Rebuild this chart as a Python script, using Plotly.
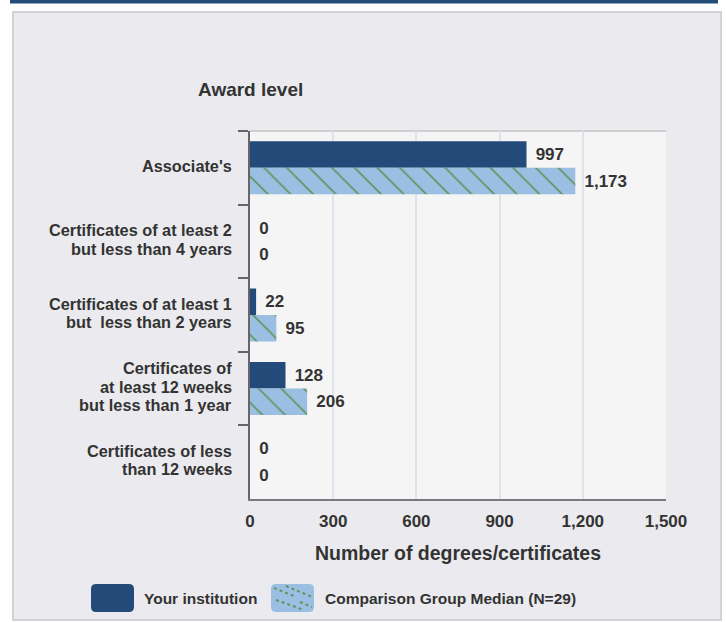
import plotly.graph_objects as go

categories = [
    "Associate's",
    "Certificates of at least 2<br>but less than 4 years",
    "Certificates of at least 1<br>but  less than 2 years",
    "Certificates of<br>at least 12 weeks<br>but less than 1 year",
    "Certificates of less<br>than 12 weeks",
]
your_institution = [997, 0, 22, 128, 0]
comparison_median = [1173, 0, 95, 206, 0]
x_ticks = [0, 300, 600, 900, 1200, 1500]
series_names = ["Your institution", "Comparison Group Median (N=29)"]

W, H = 726, 622
L, R, T, B = 250, 666, 131, 499

def px(x):
    return (x - L) / (R - L)

def py(y):
    return (B - y) / (B - T)

DARK = "#234a78"
LIGHT = "#9bbfe2"
GREEN = "#5e955e"
TXT = "#333333"
FONT = "Liberation Sans, Arial, sans-serif"
PAD = "\u00a0\u200a"

fig = go.Figure()
fig.add_trace(go.Bar(
    y=categories, x=your_institution, orientation="h", name=series_names[0],
    marker=dict(color=DARK, line=dict(width=0)),
    texttemplate=PAD + "%{x:,}", textposition="outside",
    textfont=dict(family=FONT, size=17, color=TXT, weight="bold"),
    cliponaxis=False, showlegend=False,
))
fig.add_trace(go.Bar(
    y=categories, x=comparison_median, orientation="h", name=series_names[1],
    marker=dict(color=LIGHT, line=dict(width=0),
                pattern=dict(shape="\\", fgcolor=GREEN, bgcolor=LIGHT,
                             size=16, solidity=0.1, fillmode="replace")),
    texttemplate=PAD + "%{x:,}", textposition="outside",
    textfont=dict(family=FONT, size=17, color=TXT, weight="bold"),
    cliponaxis=False, showlegend=False,
))

shapes = []
# panel
shapes.append(dict(type="rect", xref="paper", yref="paper", layer="below",
                   x0=px(13), x1=px(721), y0=py(620), y1=py(12),
                   fillcolor="#ebebef", line=dict(color="#d2d2d4", width=2)))
# top band
shapes.append(dict(type="rect", xref="paper", yref="paper", layer="below",
                   x0=px(10), x1=px(718), y0=py(3.5), y1=py(0),
                   fillcolor="#244c79", line=dict(width=0)))
# plot background
shapes.append(dict(type="rect", xref="paper", yref="paper", layer="below",
                   x0=0, x1=1, y0=0, y1=1,
                   fillcolor="#f5f5f5", line=dict(width=0)))
shapes.append(dict(type="line", xref="paper", yref="paper", layer="below",
                   x0=0, x1=1, y0=1, y1=1, line=dict(color="#cfcfd2", width=2)))

def rounded(x0, y0, x1, y1, r):
    X0, X1 = px(x0), px(x1)
    Y0, Y1 = py(y0), py(y1)
    rx = r / (R - L)
    ry = r / (B - T)
    return (f"M {X0+rx},{Y0} L {X1-rx},{Y0} Q {X1},{Y0} {X1},{Y0-ry} "
            f"L {X1},{Y1+ry} Q {X1},{Y1} {X1-rx},{Y1} L {X0+rx},{Y1} "
            f"Q {X0},{Y1} {X0},{Y1+ry} L {X0},{Y0-ry} Q {X0},{Y0} {X0+rx},{Y0} Z")

shapes.append(dict(type="path", xref="paper", yref="paper",
                   path=rounded(91, 584, 134, 612, 5),
                   fillcolor=DARK, line=dict(width=0)))
shapes.append(dict(type="path", xref="paper", yref="paper",
                   path=rounded(271, 584, 314, 612, 5),
                   fillcolor=LIGHT, line=dict(width=0)))
for (a, b, c, d) in [(274, 588, 294, 596), (286, 586, 312, 597), (276, 600, 304, 610), (300, 602, 312, 607)]:
    shapes.append(dict(type="line", xref="paper", yref="paper",
                       x0=px(a), y0=py(b), x1=px(c), y1=py(d),
                       line=dict(color=GREEN, width=2, dash="dot")))

annotations = [
    dict(text="<b>Award level</b>", xref="paper", yref="paper",
         x=px(250), y=py(90), xanchor="center", yanchor="middle", showarrow=False,
         font=dict(family=FONT, size=19, color=TXT)),
    dict(text="<b>" + series_names[0] + "</b>", xref="paper", yref="paper",
         x=px(142), y=py(598), xanchor="left", yanchor="middle", showarrow=False,
         font=dict(family=FONT, size=15.5, color=TXT)),
    dict(text="<b>" + series_names[1] + "</b>", xref="paper", yref="paper",
         x=px(323), y=py(598), xanchor="left", yanchor="middle", showarrow=False,
         font=dict(family=FONT, size=15.5, color=TXT)),
]

# category labels, one annotation per line for tight line spacing
LINE = 18.5
for cat in categories:
    lines = cat.split("<br>")
    n = len(lines)
    for i, ln in enumerate(lines):
        annotations.append(dict(
            text="<b>" + ln + "</b>", xref="paper", yref="y",
            x=px(234), y=cat, xanchor="right", yanchor="middle", showarrow=False,
            yshift=((n - 1) / 2 - i) * LINE + 2,
            font=dict(family=FONT, size=16.3, color=TXT)))

fig.update_layout(
    width=W, height=H,
    margin=dict(l=L, r=W - R, t=T, b=H - B, pad=0),
    paper_bgcolor="white", plot_bgcolor="rgba(0,0,0,0)",
    barmode="group", bargap=0.28, bargroupgap=0,
    shapes=shapes, annotations=annotations,
    font=dict(family=FONT, color=TXT),
    xaxis=dict(range=[0, 1500], tickvals=x_ticks, tickformat=",",
               showgrid=True, gridcolor="#dce3ed", gridwidth=2,
               zeroline=False, showline=True, linecolor="#7a7a7e", linewidth=2,
               ticks="", ticklabelstandoff=6,
               tickfont=dict(family=FONT, size=17, color=TXT, weight="bold"),
               title=dict(text="<b>Number of degrees/certificates</b>",
                          font=dict(family=FONT, size=19.5, color=TXT), standoff=16),
               fixedrange=True),
    yaxis=dict(autorange="reversed", tickson="boundaries", ticks="outside",
               ticklen=10, tickwidth=2, tickcolor="#66666a",
               showline=True, linecolor="#66666a", linewidth=2,
               showgrid=False, zeroline=False, showticklabels=False,
               fixedrange=True),
)

fig.write_html("out.html", config={"displayModeBar": False},
               post_script="document.body.style.margin='0px';")
